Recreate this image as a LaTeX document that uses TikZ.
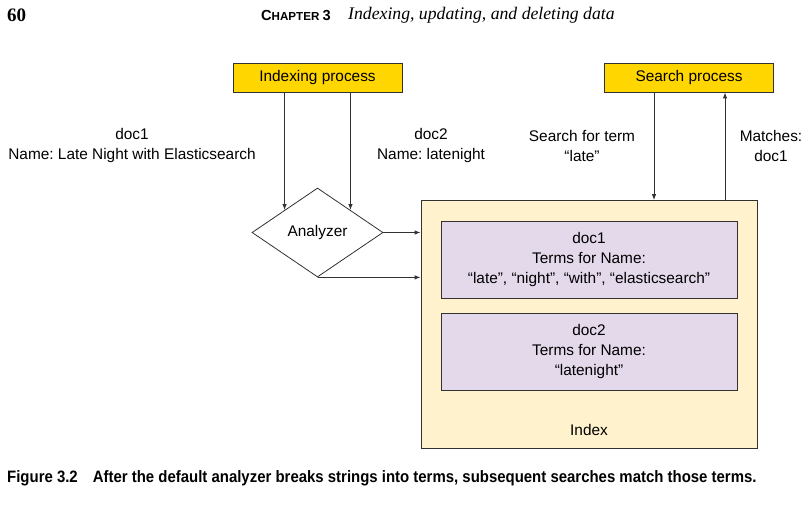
\documentclass[tikz,border=0pt]{standalone}
\usepackage{fontspec}
\setmainfont{Liberation Sans}
\newfontfamily\hdserif{Liberation Serif}
\newfontfamily\capfont[FakeStretch=0.906]{Liberation Sans}
\usetikzlibrary{shapes.geometric,arrows.meta}
\definecolor{procgold}{RGB}{255,214,0}
\definecolor{idxyellow}{RGB}{255,242,204}
\definecolor{docpurple}{RGB}{228,217,235}
\definecolor{edgegray}{RGB}{50,50,50}
\tikzset{
  procbox/.style={draw=edgegray,line width=0.8pt,fill=procgold,minimum width=169pt,minimum height=29pt,inner sep=0pt},
  docbox/.style={draw=edgegray,line width=0.8pt,fill=docpurple,minimum width=296pt,minimum height=77pt,inner sep=0pt,align=center},
  indexbox/.style={draw=edgegray,line width=0.8pt,fill=idxyellow,minimum width=336pt,minimum height=248pt,inner sep=0pt},
  lbl/.style={align=center,inner sep=0pt},
  flow/.style={-{Latex[length=6pt,width=4.5pt]},draw=edgegray,line width=0.9pt}
}
\begin{document}
\frenchspacing
\begin{tikzpicture}[x=1pt,y=-1pt,font=\fontsize{15.4}{20}\selectfont]
  \useasboundingbox[fill=white] (0,0) rectangle (805,505);

  % page header
  \node[anchor=west,inner sep=0pt] (pgno) at (7,15) {\hdserif\fontsize{19}{19}\selectfont\bfseries 60};
  \node[anchor=west,inner sep=0pt] (chap) at (261,15.5) {\bfseries\fontsize{14.6}{14}\selectfont C\fontsize{11.6}{11}\selectfont HAPTER \fontsize{14.6}{14}\selectfont 3};
  \node[anchor=west,inner sep=0pt] (title) at (348,15) {\hdserif\itshape\fontsize{17.7}{18}\selectfont Indexing, updating, and deleting data};

  % processes
  \node[procbox] (iproc) at (317.5,77.5) {Indexing process};
  \node[procbox] (sproc) at (689,77.5) {Search process};

  % index
  \node[indexbox] (index) at (589,324.5) {};
  \node[docbox] (doc1) at (589,260) {doc1\\Terms for Name:\\``late'', ``night'', ``with'', ``elasticsearch''};
  \node[docbox] (doc2) at (589,352) {doc2\\Terms for Name:\\``latenight''};
  \node[lbl] (idxlbl) at (589,430) {Index};

  % analyzer
  \node[draw=edgegray,line width=0.8pt,fill=white,diamond,aspect=1.47,minimum width=131pt,minimum height=89pt,inner sep=0pt] (ana) at (317.5,232.5) {Analyzer};

  % labels
  \node[lbl] (d1lbl) at (132,146) {doc1\\Name: Late Night with Elasticsearch};
  \node[lbl] (d2lbl) at (431,146) {doc2\\Name: latenight};
  \node[lbl] (qlbl) at (582,146) {Search for term\\``late''};
  \node[lbl] (mlbl) at (771,146) {Matches:\\doc1};

  \coordinate (qdown) at (654,0);
  \coordinate (qup) at (725,0);

  % arrows
  \draw[flow] (iproc.south -| ana.north west) -- (ana.north west);
  \draw[flow] (iproc.south -| ana.north east) -- (ana.north east);
  \draw[flow] (ana.east) -- (ana.east -| index.west);
  \draw[flow] (ana.south) -- (ana.south -| index.west);
  \draw[flow] (sproc.south -| qdown) -- (index.north -| qdown);
  \draw[flow] (index.north -| qup) -- (sproc.south -| qup);

  % caption
  \node[anchor=west,inner sep=0pt] (cap) at (7,478) {\capfont\bfseries\fontsize{16.5}{16}\selectfont Figure 3.2\hspace{15pt}After the default analyzer breaks strings into terms, subsequent searches match those terms.};
\end{tikzpicture}
\end{document}
